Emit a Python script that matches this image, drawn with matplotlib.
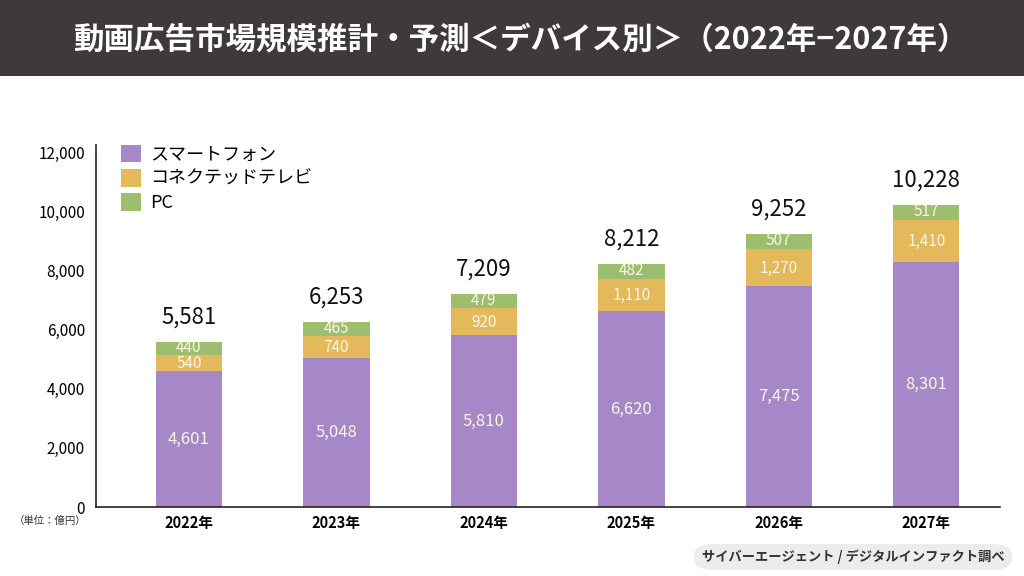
import matplotlib
matplotlib.use("Agg")

import matplotlib.pyplot as plt
from matplotlib.patches import FancyBboxPatch, Rectangle

plt.rcParams["font.family"] = ["Noto Sans CJK JP", "DejaVu Sans"]

years = ["2022年", "2023年", "2024年", "2025年", "2026年", "2027年"]
smartphone = [4601, 5048, 5810, 6620, 7475, 8301]
connected_tv = [540, 740, 920, 1110, 1270, 1410]
pc = [440, 465, 479, 482, 507, 517]
totals = [5581, 6253, 7209, 8212, 9252, 10228]

series_names = ["スマートフォン", "コネクテッドテレビ", "PC"]
colors = ["#a687c7", "#e3b95b", "#9dbe6f"]

fig = plt.figure(figsize=(10.24, 5.76), dpi=100)
fig.patch.set_facecolor("white")

# title bar
fig.patches.append(Rectangle((0, 1 - 76 / 576), 1, 76 / 576, transform=fig.transFigure,
                             facecolor="#3d3a39", edgecolor="none", zorder=0))
fig.text(0.508, 1 - 40 / 576, "動画広告市場規模推計・予測＜デバイス別＞（2022年−2027年）",
         color="white", fontsize=22, fontweight="bold", ha="center", va="center")

ax = fig.add_axes([96 / 1024, 1 - 507 / 576, (1000 - 96) / 1024, (507 - 145) / 576])
x = range(len(years))
w = 0.45
bottom2 = [a + b for a, b in zip(smartphone, connected_tv)]
ax.bar(x, smartphone, w, color=colors[0], label=series_names[0])
ax.bar(x, connected_tv, w, bottom=smartphone, color=colors[1], label=series_names[1])
ax.bar(x, pc, w, bottom=bottom2, color=colors[2], label=series_names[2])

label_color = "#fbf6e6"
for i in x:
    ax.text(i, smartphone[i] / 2, f"{smartphone[i]:,}", ha="center", va="center",
            color=label_color, fontsize=12)
    ax.text(i, smartphone[i] + connected_tv[i] / 2 - 30, f"{connected_tv[i]:,}", ha="center",
            va="center", color=label_color, fontsize=11)
    ax.text(i, bottom2[i] + pc[i] / 2 + 30, f"{pc[i]:,}", ha="center", va="center",
            color=label_color, fontsize=11)
    ax.text(i, bottom2[i] + pc[i] + 450, f"{totals[i]:,}", ha="center", va="bottom",
            color="#111111", fontsize=16)

ax.set_xlim(-0.63, 5.5)
ax.set_ylim(0, 12250)
ax.set_yticks(range(0, 12001, 2000))
ax.set_yticklabels([f"{v:,}" for v in range(0, 12001, 2000)], fontsize=11)
ax.set_xticks(list(x))
ax.set_xticklabels(years, fontsize=10.5, fontweight="bold")
ax.tick_params(axis="y", length=0, pad=8)
ax.tick_params(axis="x", length=0, pad=6)
for s in ["top", "right"]:
    ax.spines[s].set_visible(False)
for s in ["left", "bottom"]:
    ax.spines[s].set_color("#222222")
    ax.spines[s].set_linewidth(1.2)

ax.legend(loc="upper left", bbox_to_anchor=(0.01, 1.045), frameon=False, fontsize=13,
          handlelength=1.1, handleheight=1.1, handletextpad=0.5, labelspacing=0.3)

fig.text(50 / 1024, 1 - 521 / 576, "（単位：億円）", fontsize=7.5, ha="center",
         va="center", color="#333333")

# source box
fig.patches.append(FancyBboxPatch((694 / 1024, 1 - 570 / 576), 318 / 1024, 26 / 576,
                                  boxstyle="round,pad=0,rounding_size=0.02",
                                  transform=fig.transFigure, facecolor="#ececec",
                                  edgecolor="none", zorder=0))
fig.text(853 / 1024, 1 - 557 / 576, "サイバーエージェント / デジタルインファクト調べ",
         fontsize=9.5, fontweight="bold", ha="center", va="center", color="#333333")

plt.savefig("out.png", dpi=100)
plt.close()
